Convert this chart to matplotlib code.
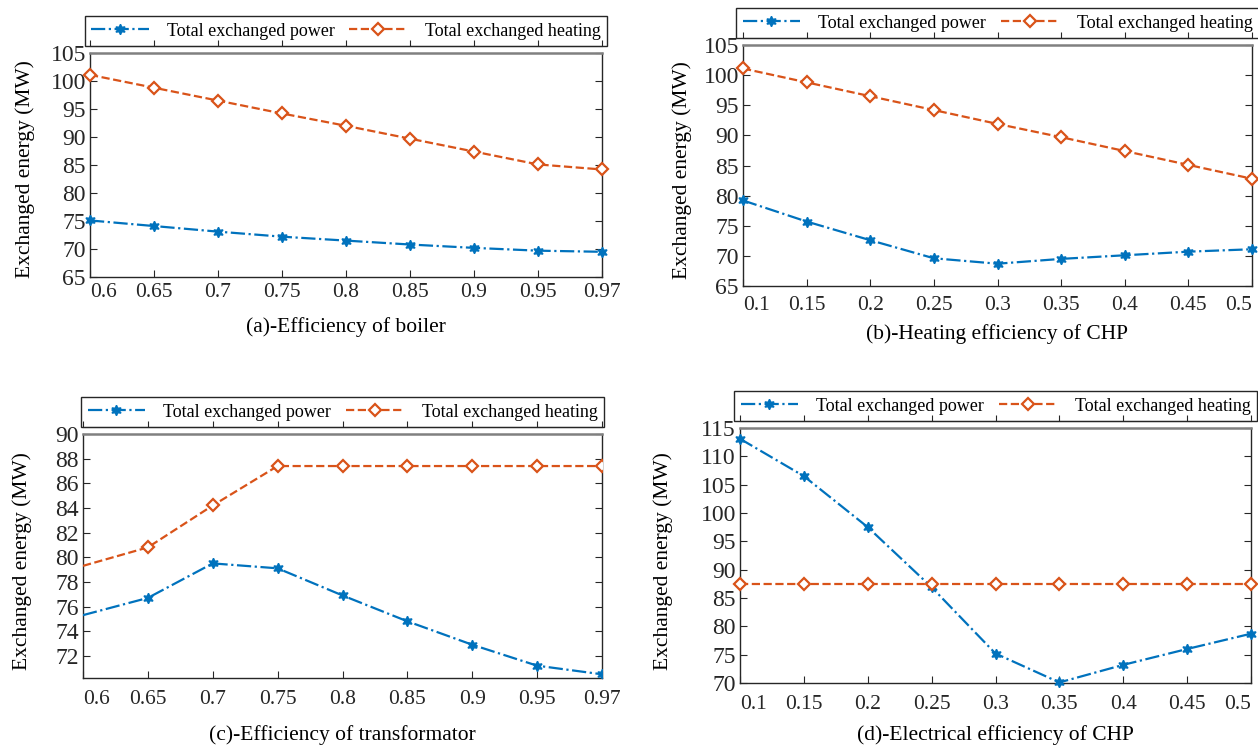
import numpy as np
import matplotlib
matplotlib.use("Agg")
import matplotlib.pyplot as plt

plt.rcParams['font.family'] = ['Liberation Serif', 'DejaVu Serif']

BLUE = '#0072BD'
ORANGE = '#D95319'

# (a) efficiency of boiler
a_labels = ['0.6', '0.65', '0.7', '0.75', '0.8', '0.85', '0.9', '0.95', '0.97']
a_power = [75.1, 74.1, 73.1, 72.2, 71.5, 70.8, 70.2, 69.7, 69.5]
a_heat = [101.1, 98.8, 96.5, 94.2, 92.0, 89.7, 87.4, 85.1, 84.2]

# (b) heating efficiency of CHP
b_x = [0.1, 0.15, 0.2, 0.25, 0.3, 0.35, 0.4, 0.45, 0.5]
b_labels = ['0.1', '0.15', '0.2', '0.25', '0.3', '0.35', '0.4', '0.45', '0.5']
b_power = [79.2, 75.7, 72.6, 69.6, 68.7, 69.5, 70.1, 70.7, 71.1]
b_heat = [101.1, 98.8, 96.5, 94.2, 91.9, 89.7, 87.4, 85.1, 82.8]

# (c) efficiency of transformator
c_labels = ['0.6', '0.65', '0.7', '0.75', '0.8', '0.85', '0.9', '0.95', '0.97']
c_power = [75.3, 76.7, 79.5, 79.1, 76.9, 74.8, 72.9, 71.2, 70.5]
c_heat = [79.3, 80.8, 84.2, 87.4, 87.4, 87.4, 87.4, 87.4, 87.4]

# (d) electrical efficiency of CHP
d_x = [0.1, 0.15, 0.2, 0.25, 0.3, 0.35, 0.4, 0.45, 0.5]
d_labels = ['0.1', '0.15', '0.2', '0.25', '0.3', '0.35', '0.4', '0.45', '0.5']
d_power = [113.1, 106.5, 97.5, 86.9, 75.2, 70.1, 73.2, 76.0, 78.7]
d_heat = [87.4, 87.4, 87.4, 87.4, 87.4, 87.4, 87.4, 87.4, 87.4]

fig = plt.figure(figsize=(12.58, 7.46), dpi=100)
W, H = 1258, 746


def make_axes(left, top, right, bottom):
    return fig.add_axes([left / W, 1 - bottom / H, (right - left) / W, (bottom - top) / H])


def draw_panel(ax, x, ticks, labels, power, heat, ylim, yticks, xlabel,
               tick_pad, xlabel_pad, ylabel_x, first_marker=True, shift_last=False):
    mk = slice(0, None) if first_marker else slice(1, None)
    clip = not first_marker
    ax.plot(x, power, linestyle='-.', color=BLUE, lw=1.6, marker=(6, 1, 0), ms=7.5,
            mfc=BLUE, mec=BLUE, markevery=mk, clip_on=clip, label='Total exchanged power', zorder=3)
    ax.plot(x, heat, linestyle='--', color=ORANGE, lw=1.6, marker='D', ms=6,
            mfc='white', mec=ORANGE, mew=1.6, markevery=mk, clip_on=clip,
            label='Total exchanged heating', zorder=3)
    ax.set_xlim(x[0], x[-1])
    ax.set_ylim(*ylim)
    ax.set_xticks(ticks)
    ax.set_xticklabels(labels)
    ax.set_yticks(yticks)
    ax.tick_params(direction='in', length=5, width=0.8, colors='#262626',
                   right=True, top=False)
    ax.tick_params(axis='x', pad=tick_pad, labelsize=15.5)
    ax.tick_params(axis='y', pad=3, labelsize=17)
    ax.get_xticklabels()[0].set_horizontalalignment('left')
    if shift_last:
        ax.get_xticklabels()[-1].set_horizontalalignment('right')
    for s in ax.spines.values():
        s.set_color('#262626')
        s.set_linewidth(1.0)
    ax.spines['top'].set_color('#808080')
    ax.spines['top'].set_linewidth(1.8)
    ax.set_xlabel(xlabel, fontsize=15.5, labelpad=xlabel_pad)
    ax.set_ylabel('Exchanged energy (MW)', fontsize=15.5)
    ax.yaxis.set_label_coords(ylabel_x, 0.48)

    # legend box sitting above the plot, with its own tick line underneath
    hpx = ax.get_position().height * H
    gap = 7.0 / hpx
    leg = ax.legend(loc='lower center', bbox_to_anchor=(0.5, 1 + gap), ncol=2, fontsize=13,
                    frameon=True, fancybox=False, edgecolor='#262626', framealpha=1,
                    borderaxespad=0, handlelength=3.2, columnspacing=0.8, handletextpad=1.0,
                    borderpad=0.35)
    leg.get_frame().set_linewidth(1.0)
    leg.set_zorder(1)
    sec = ax.secondary_xaxis(1 + gap)
    sec.set_xticks(ticks)
    sec.set_xticklabels([])
    sec.tick_params(direction='out', length=4, width=0.8, colors='#262626')
    sec.spines['top'].set_color('#262626')
    sec.set_zorder(6)


idx = np.arange(len(a_labels))

ax_a = make_axes(90, 53, 602, 277)
draw_panel(ax_a, idx, idx, a_labels, a_power, a_heat, (65, 105), np.arange(65, 106, 5),
           '(a)-Efficiency of boiler', tick_pad=4.5, xlabel_pad=11, ylabel_x=-0.107)

ax_b = make_axes(743, 45, 1252, 286)
draw_panel(ax_b, b_x, b_x, b_labels, b_power, b_heat, (65, 105), np.arange(65, 106, 5),
           '(b)-Heating efficiency of CHP', tick_pad=7, xlabel_pad=7, ylabel_x=-0.100,
           shift_last=True)

ax_c = make_axes(83, 434, 602, 678)
draw_panel(ax_c, idx, idx, c_labels, c_power, c_heat, (70.2, 90), np.arange(72, 91, 2),
           '(c)-Efficiency of transformator', tick_pad=8.5, xlabel_pad=11.5, ylabel_x=-0.098,
           first_marker=False)

ax_d = make_axes(740, 428, 1251, 683)
draw_panel(ax_d, d_x, d_x, d_labels, d_power, d_heat, (70, 115), np.arange(70, 116, 5),
           '(d)-Electrical efficiency of CHP', tick_pad=8.5, xlabel_pad=8, ylabel_x=-0.131,
           shift_last=True)

fig.savefig('out.png', dpi=100)
